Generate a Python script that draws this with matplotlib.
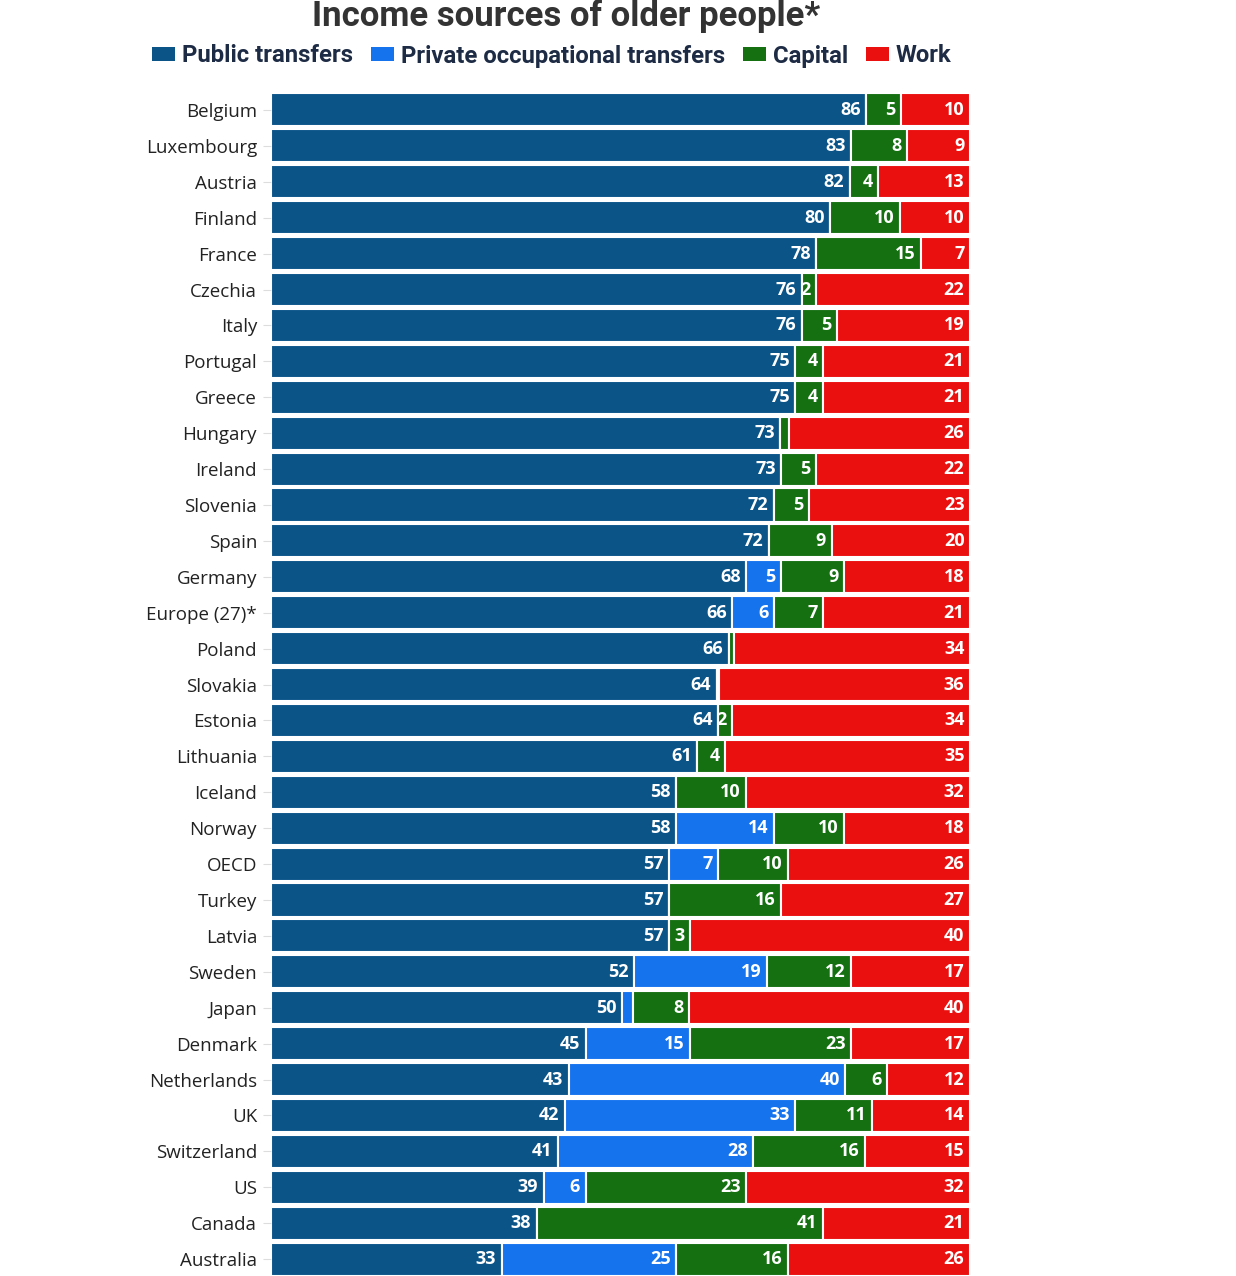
import matplotlib
matplotlib.use("Agg")
import matplotlib.pyplot as plt
from matplotlib.patches import Patch
from matplotlib import font_manager
import numpy as np

countries = ["Belgium", "Luxembourg", "Austria", "Finland", "France", "Czechia", "Italy",
             "Portugal", "Greece", "Hungary", "Ireland", "Slovenia", "Spain", "Germany",
             "Europe (27)*", "Poland", "Slovakia", "Estonia", "Lithuania", "Iceland", "Norway",
             "OECD", "Turkey", "Latvia", "Sweden", "Japan", "Denmark", "Netherlands", "UK",
             "Switzerland", "US", "Canada", "Australia"]
public = [86, 83, 82, 80, 78, 76, 76, 75, 75, 73, 73, 72, 72, 68, 66, 66, 64, 64, 61, 58, 58,
          57, 57, 57, 52, 50, 45, 43, 42, 41, 39, 38, 33]
private = [0, 0, 0, 0, 0, 0, 0, 0, 0, 0, 0, 0, 0, 5, 6, 0, 0, 0, 0, 0, 14,
           7, 0, 0, 19, 1.5, 15, 40, 33, 28, 6, 0, 25]
capital = [5, 8, 4, 10, 15, 2, 5, 4, 4, 1.2, 5, 5, 9, 9, 7, 0.7, 0.4, 2, 4, 10, 10,
           10, 16, 3, 12, 8, 23, 6, 11, 16, 23, 41, 16]
work = [10, 9, 13, 10, 7, 22, 19, 21, 21, 26, 22, 23, 20, 18, 21, 34, 36, 34, 35, 32, 18,
        26, 27, 40, 17, 40, 17, 12, 14, 15, 32, 21, 26]
series_names = ["Public transfers", "Private occupational transfers", "Capital", "Work"]
colors = ["#0b5488", "#1673ee", "#157012", "#eb1010"]

W, H = 1236, 1276
fig = plt.figure(figsize=(W / 100, H / 100), dpi=100)

avail = {f.name for f in font_manager.fontManager.ttflist}
cond = "Liberation Sans Narrow" if "Liberation Sans Narrow" in avail else "Roboto"

ax = fig.add_axes([271 / W, 0, (970 - 271) / W, (1276 - 92) / H])

data = np.array([public, private, capital, work], dtype=float)
totals = data.sum(axis=0)
norm = data / totals * 100
y = np.arange(len(countries))
left = np.zeros(len(countries))
for i in range(4):
    ax.barh(y, norm[i], left=left, height=0.92, color=colors[i], edgecolor="white",
            linewidth=1.5)
    for j in range(len(countries)):
        v = data[i, j]
        if v >= 2:
            ax.text(left[j] + norm[i, j] - 0.8, y[j], f"{v:.0f}", ha="right", va="center",
                    color="white", fontsize=13, fontweight="bold", family="Open Sans")
    left += norm[i]

ax.set_xlim(0, 100)
ax.set_ylim(32.47, -0.5)
ax.set_yticks(y)
ax.set_yticklabels(countries, fontsize=13.5, family="Open Sans", color="#222222")
ax.tick_params(axis="y", length=6, color="#dddddd", pad=4)
ax.set_xticks([])
for s in ax.spines.values():
    s.set_visible(False)

fig.text(566 / W, 1 - 16 / H, "Income sources of older people*", ha="center", va="center",
         fontsize=25, fontweight="bold", family=cond, color="#333333")

handles = [Patch(facecolor=c, edgecolor="none") for c in colors]
leg = fig.legend(handles, series_names, loc="center", bbox_to_anchor=(552 / W, 1 - 56 / H),
                 ncol=4, frameon=False, handlelength=0.95, handleheight=0.55,
                 handletextpad=0.3, columnspacing=0.75,
                 prop={"family": cond, "weight": "bold", "size": 17.2})
for t in leg.get_texts():
    t.set_color("#1d2b44")

fig.savefig("out.png", dpi=100)
